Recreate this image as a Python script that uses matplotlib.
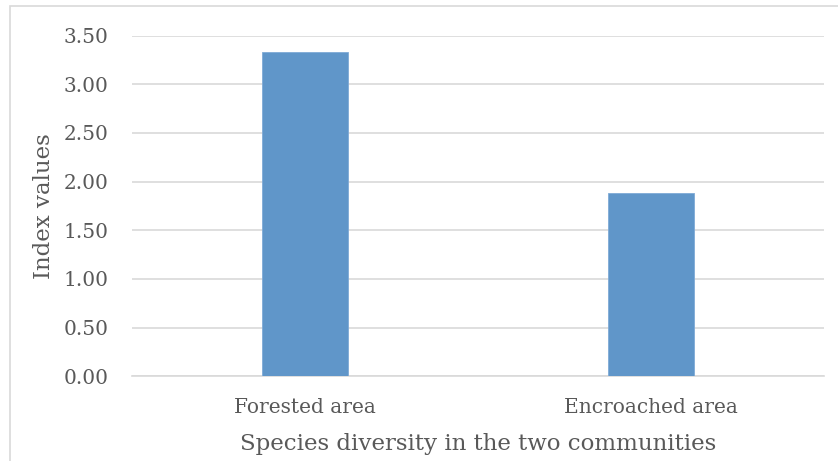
import matplotlib.pyplot as plt
from matplotlib.patches import Rectangle
from matplotlib.ticker import FormatStrFormatter

# Species diversity index per community
categories = ['Forested area', 'Encroached area']
index_values = [3.33, 1.88]

text_color = '#595959'
bar_color = '#6096C9'

plt.rcParams['font.family'] = 'DejaVu Serif'

fig = plt.figure(figsize=(8.38, 4.61), dpi=100)
ax = fig.add_axes([0.1575, 0.184, 0.826, 0.7386])

# Light frame around the chart area (cut at right/bottom like the original)
fig.patches.append(Rectangle((10 / 838, -0.05), 1.1, 1 - 6 / 461 + 0.05,
                             transform=fig.transFigure, fill=False,
                             edgecolor='#D9D9D9', linewidth=1.2))

x = range(len(categories))
ax.bar(x, index_values, width=0.25, color=bar_color, edgecolor='#7FAAD6',
       linewidth=0.6, zorder=3)

ax.set_xlim(-0.5, 1.5)
ax.set_ylim(0, 3.5)
ax.set_yticks([0, 0.5, 1.0, 1.5, 2.0, 2.5, 3.0, 3.5])
ax.yaxis.set_major_formatter(FormatStrFormatter('%.2f'))
ax.set_xticks(list(x))
ax.set_xticklabels(categories)

ax.grid(axis='y', color='#D9D9D9', linewidth=1.2, zorder=0)
for side in ['top', 'right', 'left']:
    ax.spines[side].set_visible(False)
ax.spines['bottom'].set_color('#D9D9D9')
ax.spines['bottom'].set_linewidth(1.2)

ax.tick_params(axis='both', length=0, labelsize=14.5, colors=text_color)
ax.tick_params(axis='y', pad=17)
ax.tick_params(axis='x', pad=15.5)

ax.set_xlabel('Species diversity in the two communities', fontsize=16.5,
              color=text_color, labelpad=12)
ax.set_ylabel('Index values', fontsize=16.5, color=text_color, labelpad=6)

fig.savefig('out.png', dpi=100)
